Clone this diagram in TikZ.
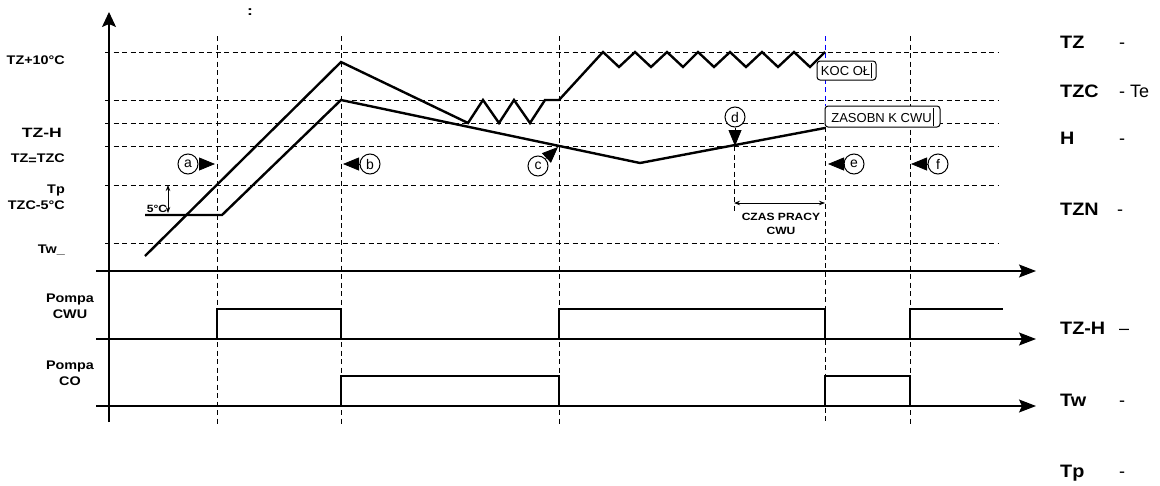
\documentclass[tikz,border=0pt]{standalone}
\usepackage{fontspec}
\setmainfont{Liberation Sans}
\newfontfamily\rklblfam{Liberation Sans}[FakeStretch=1.15]
\newfontfamily\rkwidefam{Liberation Sans}[FakeStretch=1.3]
\newfontfamily\rklegfam{Liberation Sans}[FakeStretch=1.1]
\usetikzlibrary{arrows.meta}
\newcommand\rklbl{\rklblfam\bfseries\fontsize{12.5}{14}\selectfont}
\newcommand\rkwlbl{\rkwidefam\bfseries\fontsize{13.5}{15}\selectfont}
\newcommand\rksmall{\rklblfam\bfseries\fontsize{10.5}{12}\selectfont}
\newcommand\rklegb{\rklegfam\bfseries\fontsize{18}{20}\selectfont}
\newcommand\rklegr{\fontsize{18}{20}\selectfont}
\newcommand\rkcirc{\fontsize{14}{16}\selectfont}
\newcommand\rkbox{\fontsize{13}{15}\selectfont}
\begin{document}
\begin{tikzpicture}[x=1pt,y=-1pt,
  gridl/.style={line width=0.9pt, dash pattern=on 5pt off 3.5pt},
  curve/.style={line width=2.4pt, line join=miter, miter limit=20},
  pulse/.style={line width=2.2pt, line join=miter},
  axisl/.style={line width=1.1pt},
  tarrow/.style={axisl, -{Stealth[length=17pt,width=13pt,inset=3pt]}},
  lbl/.style={inner sep=0pt, anchor=base east, font=\rklbl},
  clbl/.style={inner sep=0pt, anchor=base, font=\rklbl},
  slbl/.style={inner sep=0pt, anchor=base, font=\rksmall},
  legb/.style={inner sep=0pt, anchor=base west, font=\rklegb},
  legr/.style={inner sep=0pt, anchor=base west, font=\rklegr},
  circ/.style={circle, draw, line width=1pt, minimum size=20pt, inner sep=0pt, fill=white, font=\rkcirc},
  marker/.style={line width=0.8pt, -{Triangle[length=16pt,width=13pt]}},
  boxn/.style={draw, rounded corners=3pt, line width=1pt, inner sep=0pt, fill=white, font=\rkbox},
  dimarrow/.style={line width=0.8pt, {Stealth[length=6pt,width=4.5pt]}-{Stealth[length=6pt,width=4.5pt]}}
]
\useasboundingbox (0,0) rectangle (1160,485);

% grid
\foreach \yy in {52,100,123,146,185,243} \draw[gridl] (105,\yy) -- (998,\yy);
\foreach \xx in {217,341,559,910} \draw[gridl] (\xx,36) -- (\xx,424);
\draw[gridl, blue] (825,36) -- (825,106);
\draw[gridl] (825,127) -- (825,424);
\draw[gridl] (734,146) -- (734,213);

% axes
\draw[axisl, -{Stealth[length=15pt,width=14pt,inset=3pt]}] (109,422) -- (109,12);
\draw[tarrow] (96,271) -- (1036,271);
\draw[tarrow] (96,339) -- (1036,339);
\draw[tarrow] (96,406) -- (1036,406);

% temperature curves
\draw[curve] (145,256) -- (341,62) -- (468,123) -- (483,100) -- (499,123) -- (514,100)
  -- (530,123) -- (545,100) -- (559,100) -- (603,52) -- (619,67) -- (635,52) -- (651,67)
  -- (667,52) -- (683,67) -- (698,52) -- (714,67) -- (730,52) -- (746,67) -- (762,52)
  -- (778,67) -- (794,52) -- (810,67) -- (825,52);
\draw[curve] (145,215) -- (222,215) -- (341,100) -- (640,163) -- (825,128);

% pump pulses
\draw[pulse] (217,339) -- (217,309) -- (341,309) -- (341,339);
\draw[pulse] (559,339) -- (559,309) -- (825,309) -- (825,339);
\draw[pulse] (910,339) -- (910,309) -- (1003,309);
\draw[pulse] (341,406) -- (341,376) -- (559,376) -- (559,406);
\draw[pulse] (825,406) -- (825,376) -- (910,376) -- (910,406);

% 5 C span
\coordinate (f5a) at (168,185);
\coordinate (f5b) at (168,213);
\draw[dimarrow] (f5a) -- (f5b);
\node[slbl] (t5) at (157,212) {5°C};

% CZAS PRACY CWU span
\coordinate (cza) at (734,203);
\coordinate (czb) at (825,203);
\draw[dimarrow] (cza) -- (czb);
\node[slbl] (cz1) at (781,220) {CZAS PRACY};
\node[slbl] (cz2) at (781,234) {CWU};

% boxes
\node[boxn, minimum width=59pt, minimum height=19pt] (koc) at (846.5,70.5)
  {KOC OŁ\hspace{1pt}\rule[-3pt]{0.9pt}{15.5pt}};
\node[boxn, minimum width=115pt, minimum height=21pt] (zas) at (882.5,116.5)
  {ZASOBN K CWU\hspace{1pt}\rule[-3pt]{0.9pt}{18pt}};

% event markers
\node[circ] (ca) at (188,164) {a};
\coordinate (ta) at (215,164);
\draw[marker] (ca) -- (ta);
\node[circ] (cb) at (370,164) {b};
\coordinate (tb) at (343,164);
\draw[marker] (cb) -- (tb);
\node[circ] (cc) at (538,166) {c};
\coordinate (tc) at (558,147);
\draw[marker] (cc) -- (tc);
\node[circ] (cd) at (735,117) {d};
\coordinate (td) at (735,146);
\draw[marker] (cd) -- (td);
\node[circ] (ce) at (854,164) {e};
\coordinate (te) at (828,164);
\draw[marker] (ce) -- (te);
\node[circ] (cf) at (938,164) {f};
\coordinate (tf) at (911,164);
\draw[marker] (cf) -- (tf);

% left labels
\node[inner sep=0pt, anchor=base, font=\rkwlbl] (colon) at (250,15) {:};
\node[lbl] (l1) at (65,64) {TZ+10°C};
\node[inner sep=0pt, anchor=base east, font=\rkwlbl] (l2) at (62,137) {TZ-H};
\node[lbl] (l3) at (65,162) {TZ\raisebox{-2.5pt}{=}TZC};
\node[lbl] (l4) at (65,193) {Tp};
\node[lbl] (l5) at (65,209) {TZC-5°C};
\node[lbl] (l6) at (65,253) {Tw\_};
\node[clbl] (p1) at (70,302.7) {Pompa};
\node[clbl] (p2) at (70,318) {CWU};
\node[clbl] (p3) at (70,369) {Pompa};
\node[clbl] (p4) at (70,385) {CO};

% legend
\node[legb] (g1) at (1060,48) {TZ};
\node[legr] (g1d) at (1119,48) {-};
\node[legb] (g2) at (1060,97) {TZC};
\node[legr] (g2d) at (1119,97) {- Te};
\node[legb] (g3) at (1060,144) {H};
\node[legr] (g3d) at (1119,144) {-};
\node[legb] (g4) at (1060,215) {TZN};
\node[legr] (g4d) at (1117,215) {-};
\node[legb] (g5) at (1060,334) {TZ-H};
\node[legr] (g5d) at (1119,334) {–};
\node[legb] (g6) at (1060,406) {Tw};
\node[legr] (g6d) at (1119,406) {-};
\node[legb] (g7) at (1060,477) {Tp};
\node[legr] (g7d) at (1119,477) {-};
\end{tikzpicture}
\end{document}
